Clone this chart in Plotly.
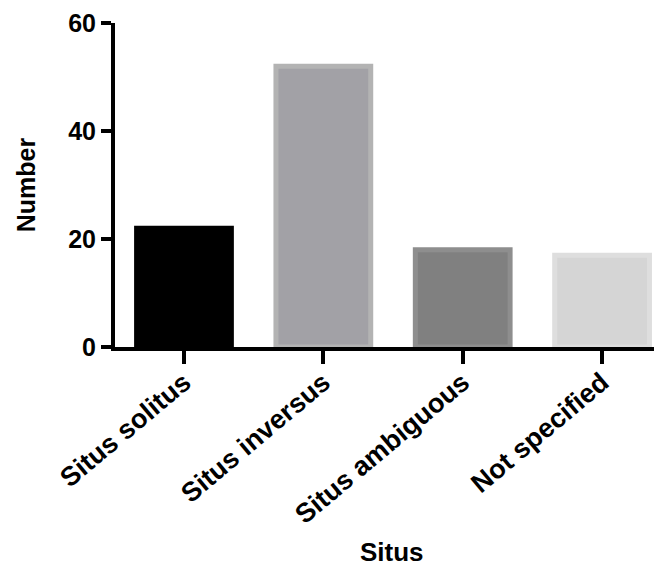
import plotly.graph_objects as go

categories = ["Situs solitus", "Situs inversus", "Situs ambiguous", "Not specified"]
values = [22, 52, 18, 17]
fill_colors = ["#000000", "#a2a1a6", "#808080", "#d5d5d5"]
edge_colors = ["#000000", "#b3b3b3", "#8e8e8e", "#dedede"]
y_ticks = [0, 20, 40, 60]

FONT = "Liberation Sans, Arial, Helvetica, sans-serif"

fig = go.Figure(go.Bar(
    x=list(range(len(categories))),
    y=values,
    width=0.68,
    marker=dict(color=fill_colors, line=dict(color=edge_colors, width=5)),
))

# the page body adds an 8px offset, so the figure is sized to fill the rest
fig.update_layout(
    width=654, height=558,
    margin=dict(l=107, r=0, t=15, b=219),
    plot_bgcolor="white", paper_bgcolor="white",
    showlegend=False,
    font=dict(family=FONT, color="black"),
    annotations=[dict(
        text="Situs", xref="paper", yref="paper", x=0.506, y=-0.634,
        xanchor="center", yanchor="middle", showarrow=False,
        font=dict(size=26, weight="bold", family=FONT, color="black"),
    )],
)
fig.update_xaxes(
    range=[-0.495, 3.43],
    tickmode="array", tickvals=list(range(len(categories))), ticktext=categories,
    tickangle=-40,
    tickfont=dict(size=27, weight="bold", family=FONT),
    ticklabelstandoff=-8,
    ticks="outside", ticklen=13, tickwidth=4, tickcolor="black",
    showline=True, linewidth=4, linecolor="black",
    showgrid=False, zeroline=False, automargin=False,
)
fig.update_yaxes(
    range=[0, 60],
    tickmode="array", tickvals=y_ticks,
    tickfont=dict(size=25, weight="bold", family=FONT),
    ticks="outside", ticklen=10, tickwidth=4, tickcolor="black",
    showline=True, linewidth=4, linecolor="black",
    showgrid=False, zeroline=False, automargin=False,
    title=dict(text="Number", font=dict(size=25, weight="bold", family=FONT), standoff=26),
)

fig.write_html("out.html")
